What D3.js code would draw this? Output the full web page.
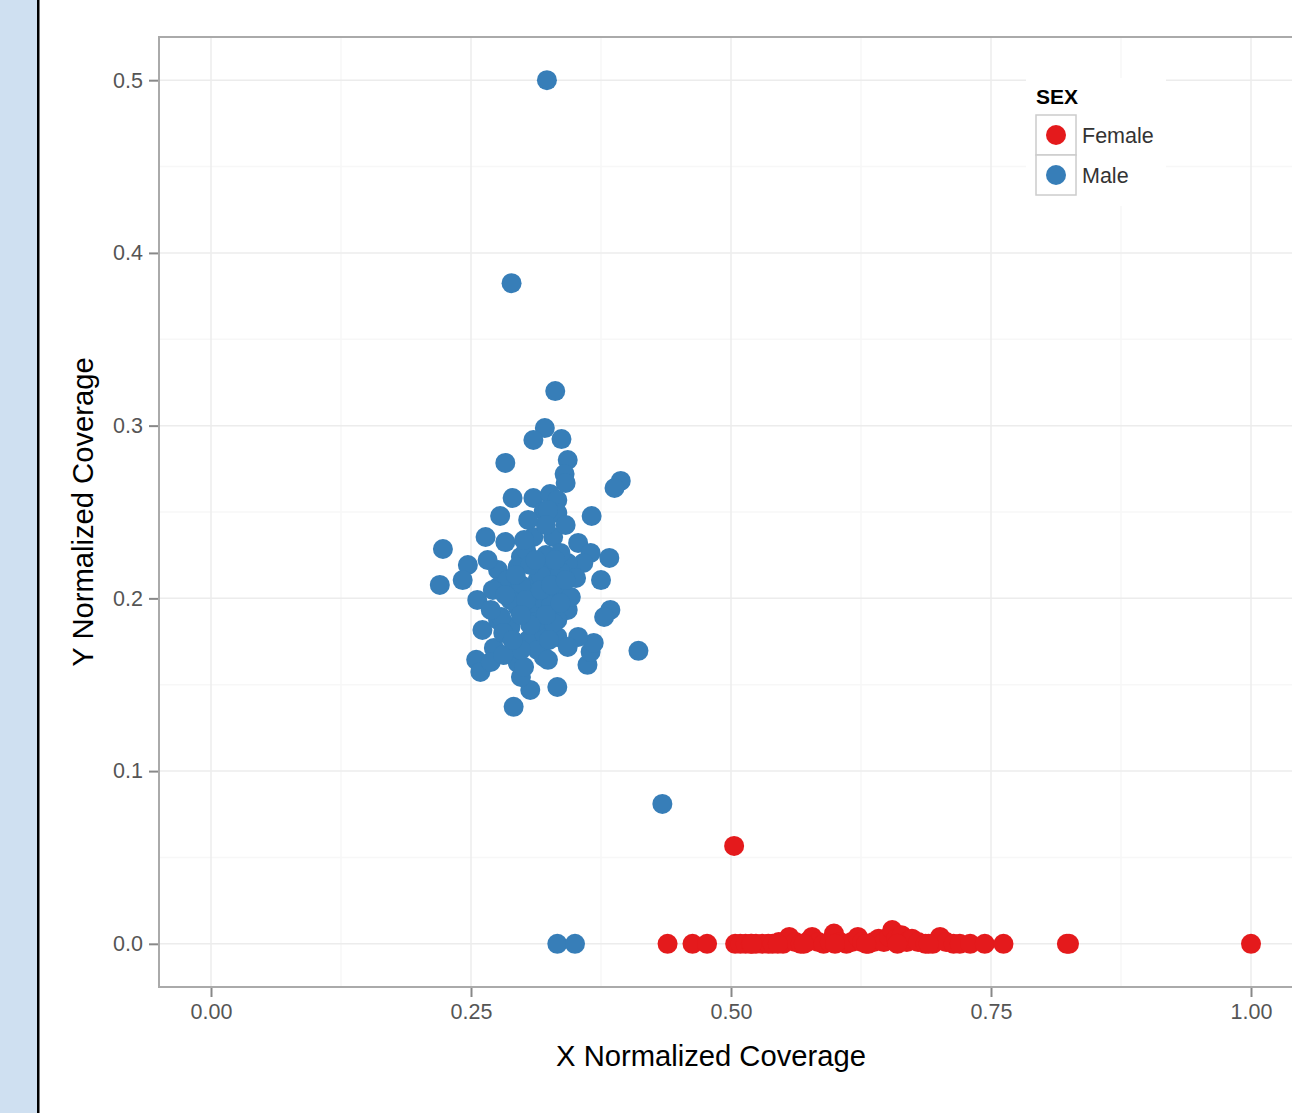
<!DOCTYPE html>
<html>
<head>
<meta charset="utf-8">
<script src="https://cdn.jsdelivr.net/npm/d3@7"></script>
<style>
  html, body { margin: 0; padding: 0; background: #ffffff; }
  svg { display: block; }
  text { font-family: "Liberation Sans", Arial, Helvetica, sans-serif; }
</style>
</head>
<body>
<svg id="chart" width="1292" height="1113"></svg>
<script>
// ---------------- data ----------------
const maleX = [0.323,0.289,0.331,0.321,0.310,0.337,0.283,0.343,0.340,0.341,0.394,0.388,0.290,0.310,0.326,0.333,0.320,0.333,0.278,0.366,0.324,0.264,0.223,0.310,0.329,0.283,0.353,0.365,0.383,0.247,0.242,0.220,0.256,0.276,0.276,0.298,0.358,0.375,0.384,0.378,0.339,0.411,0.261,0.255,0.259,0.333,0.291,0.307,0.298,0.362,0.365,0.368,0.353,0.343,0.333,0.320,0.295,0.272,0.276,0.288,0.295,0.314,0.327,0.343,0.295,0.314,0.320,0.333,0.307,0.295,0.333,0.305,0.314,0.279,0.281,0.320,0.343,0.324,0.301,0.329,0.434,0.333,0.350,0.303,0.322,0.317,0.336,0.307,0.285,0.298,0.327,0.288,0.266,0.271,0.341,0.322,0.305,0.336,0.351,0.312,0.346,0.301,0.269,
  0.293,0.303,0.317,0.327,0.322,0.307,0.298,0.283,0.312,0.331,0.341,0.325,0.298,0.269,0.281,0.290,0.336];
const maleY = [0.500,0.3825,0.320,0.2986,0.2917,0.2922,0.2784,0.2801,0.272,0.2668,0.268,0.2639,0.2581,0.2581,0.2604,0.2569,0.2506,0.2494,0.2477,0.2477,0.2512,0.2355,0.2286,0.2355,0.2355,0.2326,0.2321,0.2263,0.2234,0.2193,0.2106,0.2078,0.1991,0.2164,0.2066,0.224,0.2205,0.2106,0.1933,0.1892,0.1933,0.1696,0.1817,0.1644,0.1574,0.1487,0.1372,0.1470,0.1545,0.1615,0.1690,0.1742,0.1777,0.1933,0.1875,0.1661,0.1626,0.1713,0.1875,0.1834,0.2182,0.2106,0.2164,0.2205,0.1950,0.1916,0.1991,0.2049,0.2031,0.2031,0.1777,0.1759,0.1701,0.1892,0.1800,0.1800,0.1719,0.1644,0.1603,0.1858,0.0810,0.0,0.0,0.2280,0.2251,0.2135,0.2153,0.2193,0.2106,0.2078,0.1962,0.1991,0.2222,0.2049,0.2425,0.2425,0.2454,0.2263,0.2118,0.1863,0.2008,0.2338,0.1933,
  0.2135,0.1991,0.2049,0.2078,0.1904,0.1846,0.1904,0.2020,0.2222,0.2222,0.2106,0.1759,0.1701,0.1632,0.1672,0.1759,0.1973];

const femaleX = [0.439,0.463,0.477,0.503,0.504,0.509,0.514,0.519,0.524,0.530,0.536,0.540,0.546,0.550,0.556,0.562,0.567,0.573,0.578,0.584,0.589,0.595,0.599,0.605,0.611,0.616,0.622,0.626,0.632,0.637,0.642,0.647,0.652,0.655,0.659,0.664,0.669,0.674,0.680,0.687,0.694,0.701,0.707,0.714,0.720,0.730,0.744,0.762,0.823,0.825,1.000,0.520,0.545,0.570,0.600,0.630,0.660,0.690];
const femaleY = [0.0,0.0,0.0,0.0567,0.0,0.0,0.0,0.0,0.0,0.0,0.0,0.0,0.001,0.0,0.004,0.001,0.0,0.001,0.004,0.001,0.0,0.001,0.006,0.001,0.0,0.001,0.004,0.001,0.0,0.001,0.003,0.001,0.004,0.008,0.003,0.005,0.001,0.003,0.001,0.0,0.0,0.004,0.001,0.0,0.0,0.0,0.0,0.0,0.0,0.0,0.0,0.0,0.0,0.0,0.0,0.0,0.0,0.0];

const sexLevels = ["Female", "Male"];
const sexColors = ["#E41A1C", "#377EB8"];
const xTicks = [0, 0.25, 0.5, 0.75, 1.0];
const xTickLabels = ["0.00", "0.25", "0.50", "0.75", "1.00"];
const yTicks = [0, 0.1, 0.2, 0.3, 0.4, 0.5];
const yTickLabels = ["0.0", "0.1", "0.2", "0.3", "0.4", "0.5"];
const xMinor = [0.125, 0.375, 0.625, 0.875];
const yMinor = [0.05, 0.15, 0.25, 0.35, 0.45];
const xTitle = "X Normalized Coverage";
const yTitle = "Y Normalized Coverage";
const legendTitle = "SEX";

// ---------------- drawing ----------------
const svg = d3.select("#chart");
const W = 1292, H = 1113;
svg.append("rect").attr("x", 0).attr("y", 0).attr("width", W).attr("height", H).attr("fill", "#ffffff");

// left page strip
svg.append("rect").attr("x", 0).attr("y", 0).attr("width", 37).attr("height", H).attr("fill", "#cfe0f1");
svg.append("rect").attr("x", 37).attr("y", 0).attr("width", 2.5).attr("height", H).attr("fill", "#000000");

const panel = { left: 159, top: 37, right: 1303, bottom: 987 };
const x = d3.scaleLinear().domain([-0.05, 1.05]).range([panel.left, panel.right]);
const y = d3.scaleLinear().domain([-0.025, 0.525]).range([panel.bottom, panel.top]);

const g = svg.append("g");
// minor grid
g.selectAll(".xminor").data(xMinor).enter().append("line")
  .attr("x1", d => x(d)).attr("x2", d => x(d)).attr("y1", panel.top).attr("y2", panel.bottom)
  .attr("stroke", "#f7f7f7").attr("stroke-width", 1.5);
g.selectAll(".yminor").data(yMinor).enter().append("line")
  .attr("y1", d => y(d)).attr("y2", d => y(d)).attr("x1", panel.left).attr("x2", panel.right)
  .attr("stroke", "#f7f7f7").attr("stroke-width", 1.5);
// major grid
g.selectAll(".xmajor").data(xTicks).enter().append("line")
  .attr("x1", d => x(d)).attr("x2", d => x(d)).attr("y1", panel.top).attr("y2", panel.bottom)
  .attr("stroke", "#ececec").attr("stroke-width", 1.5);
g.selectAll(".ymajor").data(yTicks).enter().append("line")
  .attr("y1", d => y(d)).attr("y2", d => y(d)).attr("x1", panel.left).attr("x2", panel.right)
  .attr("stroke", "#ececec").attr("stroke-width", 1.5);

// points
const pts = [];
femaleX.forEach((v, i) => pts.push({ x: v, y: femaleY[i], s: "Female" }));
maleX.forEach((v, i) => pts.push({ x: v, y: maleY[i], s: "Male" }));
const color = d3.scaleOrdinal().domain(sexLevels).range(sexColors);
g.selectAll(".pt").data(pts).enter().append("circle")
  .attr("cx", d => x(d.x)).attr("cy", d => y(d.y)).attr("r", 10)
  .attr("fill", d => color(d.s));

// panel border
svg.append("path")
  .attr("d", `M${panel.right},${panel.top}H${panel.left}V${panel.bottom}H${panel.right}`)
  .attr("fill", "none").attr("stroke", "#aaaaaa").attr("stroke-width", 2);

// axes
const xAxis = d3.axisBottom(x).tickValues(xTicks).tickFormat((d, i) => xTickLabels[i]).tickSize(9).tickPadding(7);
const yAxis = d3.axisLeft(y).tickValues(yTicks).tickFormat((d, i) => yTickLabels[i]).tickSize(9).tickPadding(6);
const gx = svg.append("g").attr("transform", `translate(0,${panel.bottom + 1})`).call(xAxis);
const gy = svg.append("g").attr("transform", `translate(${panel.left - 1},0)`).call(yAxis);
[gx, gy].forEach(a => {
  a.select(".domain").remove();
  a.selectAll(".tick line").attr("stroke", "#888888").attr("stroke-width", 2);
  a.selectAll(".tick text").attr("fill", "#555555").attr("font-size", 21.5)
    .attr("font-family", "Liberation Sans, Arial, sans-serif");
});

// axis titles
svg.append("text").attr("x", 711).attr("y", 1066).attr("text-anchor", "middle")
  .attr("font-size", 29.2).attr("fill", "#000").text(xTitle);
svg.append("text").attr("transform", "translate(93,512) rotate(-90)").attr("text-anchor", "middle")
  .attr("font-size", 29.2).attr("fill", "#000").text(yTitle);

// legend
const lg = svg.append("g");
lg.append("rect").attr("x", 1026).attr("y", 78).attr("width", 140).attr("height", 128).attr("fill", "#ffffff");
lg.append("text").attr("x", 1036).attr("y", 104).attr("font-size", 21).attr("font-weight", "bold").attr("fill", "#000").text(legendTitle);
sexLevels.forEach((s, i) => {
  const ky = 115 + i * 40;
  lg.append("rect").attr("x", 1036).attr("y", ky).attr("width", 40).attr("height", 40)
    .attr("fill", "#ffffff").attr("stroke", "#cccccc").attr("stroke-width", 1.5);
  lg.append("circle").attr("cx", 1056).attr("cy", ky + 20).attr("r", 10).attr("fill", color(s));
  lg.append("text").attr("x", 1082).attr("y", ky + 28).attr("font-size", 21.5).attr("fill", "#333").text(s);
});
</script>
</body>
</html>
